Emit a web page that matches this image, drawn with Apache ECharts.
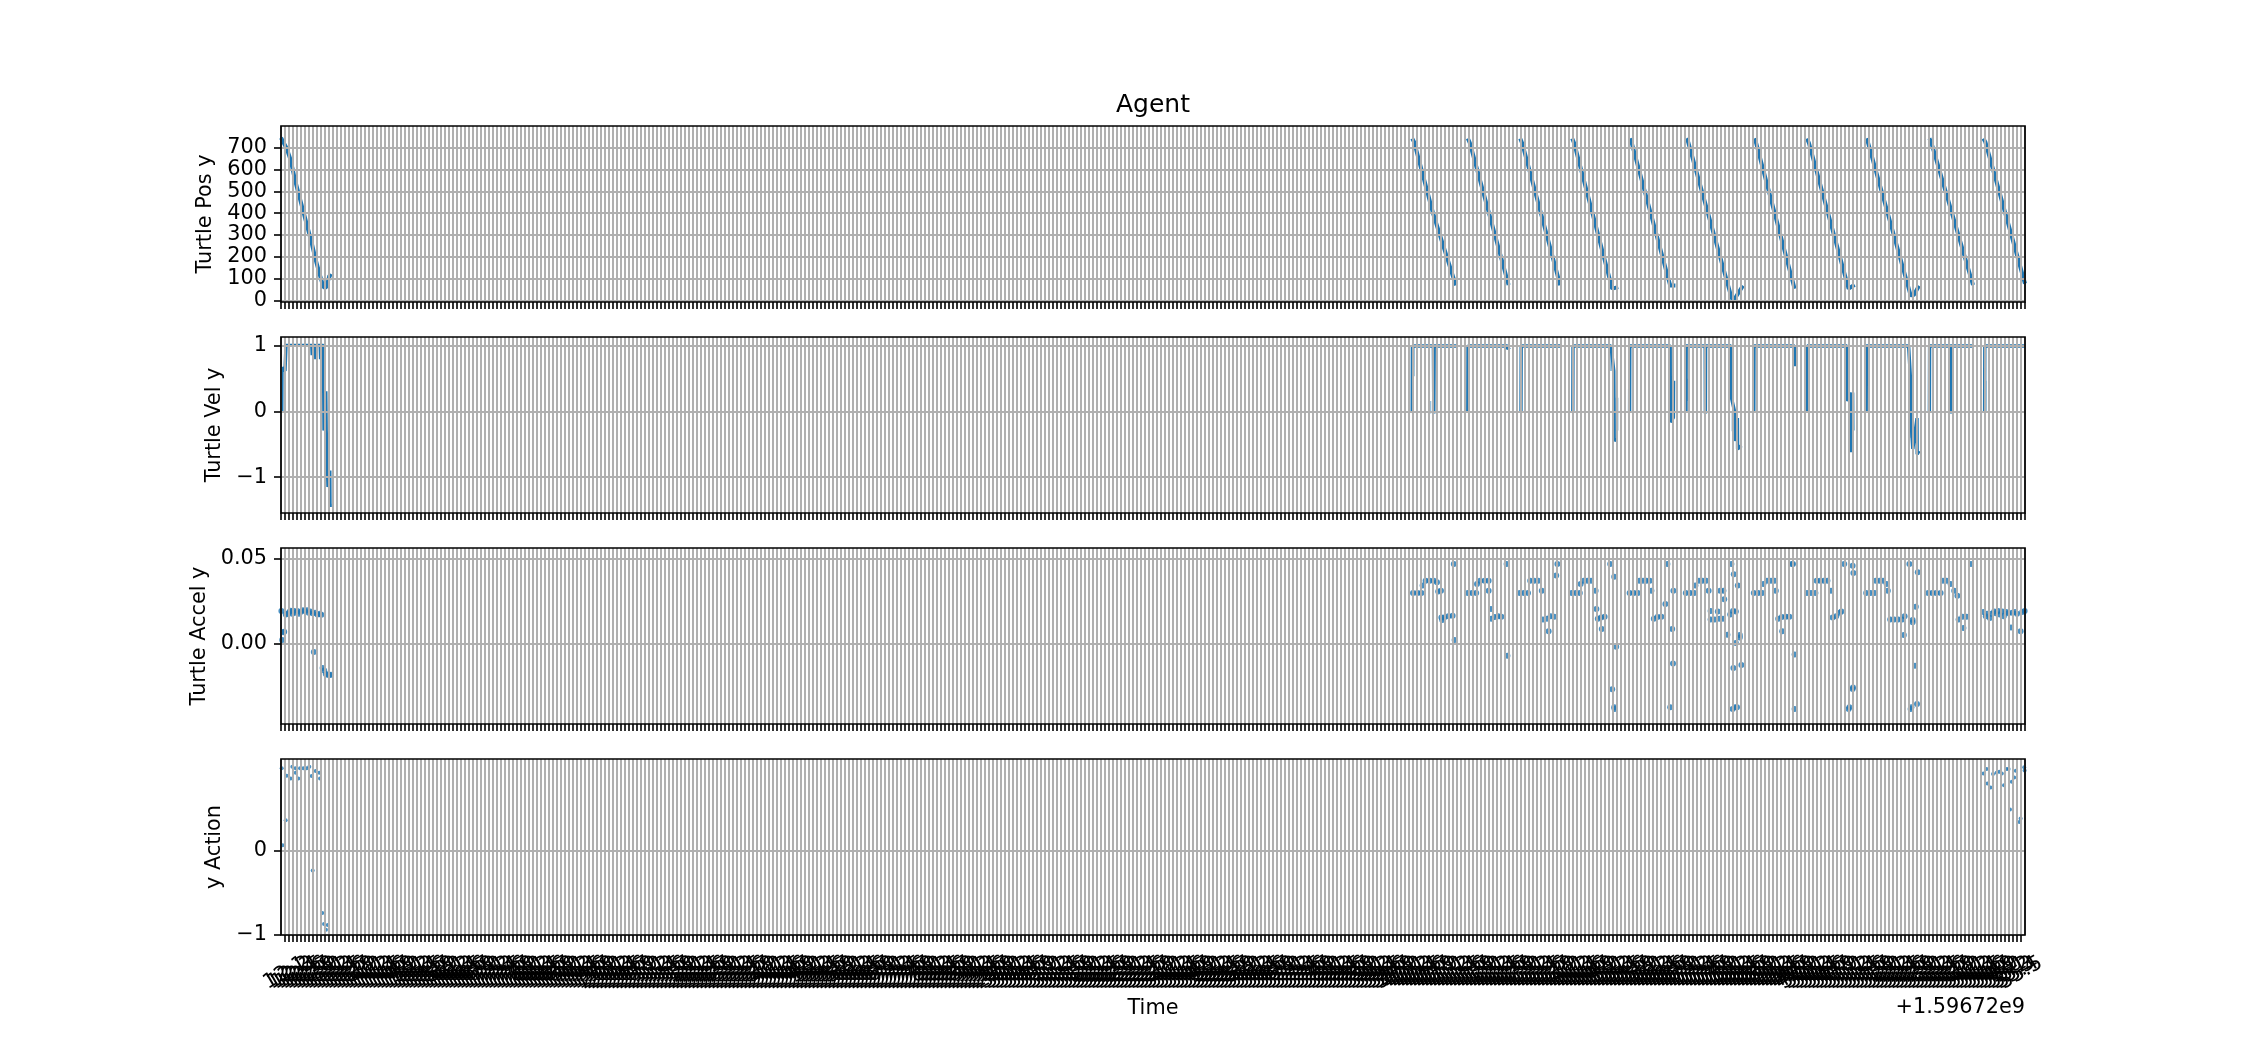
<!DOCTYPE html>
<html><head><meta charset="utf-8">
<script src="https://cdn.jsdelivr.net/npm/echarts@6/dist/echarts.min.js"></script>
<style>html,body{margin:0;padding:0;background:#fff}#c{width:2250px;height:1050px}</style>
</head><body><div id="c"></div>
<script>
// ---------- DATA (x = tick index along the time axis) ----------
const X_MIN = 0, X_MAX = 436;
// tick labels (offset seconds, shown with the +1.59672e9 offset)
const xTickLabels = Array.from({length: X_MAX - X_MIN + 1}, (_, i) => (12 + i * 0.1).toFixed(1));

const posTicks = [0, 100, 200, 300, 400, 500, 600, 700];
const velTicks = [-1, 0, 1];
const accTicks = [0, 0.05];
const actTicks = [-1, 0];

// Turtle Pos y (null = gap between episodes)
const posT = [0,0.4,1.4,2.4,3.5,4.6,5.6,6.6,7.7,8.7,9.75,10.6,11.4,12.1,12.7,null,
  282.8,283.3,288.0,293.7,null,
  296.7,297.2,306.9,null,
  309.8,310.3,319.8,null,
  322.8,323.3,332.8,333.3,334.3,null,
  337.2,337.7,347.3,348.6,null,
  351.3,351.8,362.7,363.5,365.5,null,
  368.3,368.8,378.4,null,
  381.5,382.0,391.9,393.4,null,
  396.3,396.8,407.4,408.2,409.5,null,
  412.1,412.6,423.0,null,
  425.6,426.1,436];
const posY = [745,743,697,644,552,475,406,337,261,184,115,61,61,115,110,null,
  742,725,400,69,null,
  742,722,71,null,
  742,720,70,null,
  742,720,54,50,61,null,
  742,720,69,69,null,
  742,725,8,10,68,null,
  742,720,54,null,
  742,720,54,72,null,
  742,720,24,25,67,null,
  742,722,71,null,
  742,725,77];

// Turtle Vel y
const velT = [0.2,0.25,1.0,1.25,7.7,7.8,7.9,8.6,8.7,8.8,9.8,9.9,10.0,10.6,10.75,11.1,11.2,11.3,11.7,11.75,12.2,12.25,12.7,null,
  282.8,282.85,288.1,288.2,288.3,293.9,null,
  296.7,296.75,306.6,306.7,307.1,null,
  310.0,310.05,320.0,null,
  322.95,323.0,332.5,333.2,333.3,333.8,null,
  337.15,337.2,347.3,347.35,348.1,348.15,null,
  351.25,351.3,356.05,356.1,356.15,362.5,362.65,363.4,363.45,364.1,364.15,365.1,null,
  368.2,368.25,378.35,378.4,null,
  381.5,381.55,391.5,391.6,392.4,392.45,392.9,392.95,null,
  396.3,396.35,406.9,406.95,407.4,407.45,407.9,407.95,409.0,409.05,409.5,null,
  412.1,412.15,417.3,417.4,417.5,423.2,null,
  425.9,425.95,436];
const velY = [0,0.67,0.62,1.01,1.01,0.86,1.01,1.01,0.8,1.01,1.01,0.8,1.01,1.01,-0.29,-0.29,0.31,-0.29,-0.29,-1.15,-0.9,-1.43,-1.43,null,
  0,1.0,1.0,-0.03,1.0,1.0,null,
  0,1.0,1.0,0.95,0.98,null,
  0,1.0,1.0,null,
  0,1.0,1.0,0.62,-0.45,-0.4,null,
  0,1.0,1.0,-0.16,-0.09,0.47,null,
  0,1.0,1.0,-0.03,1.0,1.0,0.2,0.0,-0.45,-0.1,-0.57,-0.52,null,
  0,1.0,1.0,0.69,null,
  0,1.0,1.0,0.16,0.29,-0.62,0.29,-0.29,null,
  0,1.0,1.0,0.95,0.47,-0.09,-0.06,-0.57,-0.1,-0.65,-0.6,null,
  0,1.0,1.0,-0.03,1.0,1.0,null,
  0,1.0,1.0];
// faint (sparser) velocity strokes
const velFaintT = [283.1,283.1,null,287.2,287.2,null,332.4,332.4,null,334.0,334.0,null,351.4,351.4,null,362.4,362.4,null,363.0,363.0,null,381.6,381.6,null,391.4,391.4,null,407.2,407.2,null,417.2,417.2,null,426.0,426.0];
const velFaintY = [1.0,0.54,null,0.16,-0.03,null,1.0,0.62,null,0.21,-0.29,null,0.16,0.5,null,0.95,0.29,null,-0.3,0.0,null,0.16,0.62,null,1.0,0.16,null,0.16,-0.4,null,0.29,1.0,null,0.47,0.0];

// Turtle Accel y
const accT = [0.1,0.3,0.6,0.8,1.2,1.6,2.1,2.4,2.8,3.1,3.5,4.1,4.5,4.9,5.5,5.9,6.5,6.9,7.3,7.9,8.2,8.5,9.1,9.7,10.1,10.4,10.8,11.2,11.6,12.1,12.5,
  283.0,284.1,285.1,285.4,286.15,287.2,288.2,289.0,289.3,290.0,290.1,290.3,290.8,291.85,292.9,293.2,293.4,
  296.7,297.75,298.8,299.0,299.8,300.9,301.9,301.9,302.5,302.6,303.4,304.3,305.1,306.4,306.6,
  309.7,310.7,311.75,312.3,313.3,314.3,315.2,315.5,316.5,317.4,318.3,316.9,319.1,318.8,
  322.7,323.7,324.7,324.9,325.7,326.6,327.5,328.65,328.85,329.2,330.0,330.9,330.2,332.3,333.3,333.8,332.8,333.3,333.4,
  337.15,338.2,339.2,339.6,340.5,341.4,342.2,342.6,343.2,344.1,345.1,346.1,346.6,347.8,348.1,348.0,347.3,
  351.2,352.3,353.3,353.6,354.5,355.4,356.3,356.9,357.4,359.2,357.4,358.4,359.6,360.5,359.8,360.6,360.8,362.3,363.0,363.7,362.6,363.2,364.2,361.6,363.7,364.7,364.7,363.1,365.1,362.9,363.5,364.0,
  368.2,369.3,370.3,370.6,371.5,372.5,373.4,373.7,374.3,375.2,376.2,377.1,375.3,377.7,378.0,378.4,378.4,
  381.5,382.5,383.6,383.9,384.8,385.7,386.6,387.5,387.9,388.8,389.7,390.1,390.8,392.9,393.1,392.9,393.0,391.9,392.1,
  396.3,397.4,398.4,398.7,399.6,400.5,401.4,401.7,402.3,403.3,404.3,405.3,405.9,407.9,407.9,408.7,405.7,407.1,409.2,408.5,407.4,407.6,409.0,
  411.8,412.8,413.8,414.9,415.5,416.4,417.4,418.3,419.1,419.4,420.4,421.4,420.6,422.5,
  425.6,426.2,426.6,427.2,427.6,428.3,428.7,429.3,429.7,430.3,430.7,431.3,431.8,432.5,432.8,433.5,434.0,434.9,435.3,435.9];
const accY = [0.019,0.002,0.0065,0.0068,0.017,0.0175,0.0185,0.0192,0.0175,0.0192,0.018,0.019,0.0175,0.0185,0.0195,0.019,0.0195,0.018,0.0188,0.0178,-0.005,0.018,0.017,0.0175,0.0168,-0.0145,-0.016,-0.018,-0.0185,-0.0186,-0.0185,
  0.0296,0.0296,0.0296,0.034,0.0369,0.0369,0.0369,0.036,0.0305,0.031,0.0152,0.0138,0.0152,0.016,0.0162,0.0467,0.002,
  0.0296,0.0296,0.0296,0.035,0.0369,0.0369,0.0369,0.031,0.0202,0.0145,0.0155,0.016,0.0157,0.0467,-0.0072,
  0.0296,0.0296,0.0296,0.0369,0.0369,0.0369,0.031,0.014,0.0145,0.016,0.0157,0.0071,0.0467,0.04,
  0.0296,0.0296,0.0296,0.035,0.0369,0.0369,0.0369,0.031,0.0202,0.0145,0.0152,0.0157,0.0085,0.0467,0.0392,-0.0019,-0.027,-0.0376,-0.0386,
  0.0296,0.0296,0.0296,0.0369,0.0369,0.0369,0.0369,0.031,0.0145,0.0155,0.0157,0.0232,0.0467,0.0085,0.031,-0.0118,-0.0376,
  0.0296,0.0296,0.0296,0.034,0.0369,0.0369,0.0369,0.031,0.019,0.0188,0.014,0.014,0.0145,0.0145,0.031,0.031,0.026,0.017,0.019,0.0188,0.0467,0.0407,0.034,0.0051,0.0002,0.005,0.0035,-0.0145,-0.0127,-0.0386,-0.0376,-0.0376,
  0.0296,0.0296,0.0296,0.035,0.0369,0.0369,0.0369,0.031,0.0145,0.0155,0.0157,0.0157,0.0071,0.0467,0.0467,-0.0066,-0.0386,
  0.0296,0.0296,0.0296,0.0369,0.0369,0.0369,0.0369,0.031,0.0152,0.016,0.018,0.0188,0.0467,0.0457,0.0414,-0.0268,-0.026,-0.0386,-0.0376,
  0.0296,0.0296,0.0296,0.0369,0.0369,0.0369,0.035,0.031,0.014,0.014,0.014,0.014,0.016,0.0125,0.0138,0.0216,0.0049,0.0467,0.0418,-0.0131,-0.0386,-0.0376,-0.0356,
  0.0296,0.0296,0.0296,0.0296,0.0369,0.0369,0.035,0.031,0.028,0.014,0.0157,0.0157,0.009,0.0467,
  0.0185,0.016,0.0175,0.015,0.0175,0.0188,0.0178,0.019,0.017,0.0188,0.016,0.0185,0.0178,0.0094,0.018,0.0185,0.0175,0.0071,0.0185,0.019];

// y Action
const actT = [0.17,0.42,1.17,1.42,2.42,2.83,3.67,3.67,4.33,4.75,5.58,6.42,7.08,7.67,7.92,8.67,9.58,9.75,10.33,10.75,11.25,11.67,
  425.6,426.4,426.6,427.4,428.0,428.9,429.6,430.2,430.75,431.4,431.9,432.25,432.7,433.3,433.7,434.6,434.9,435.8,435.9];
const actY = [0.976,0.063,0.361,0.888,0.857,0.996,0.976,0.924,0.857,0.976,0.976,0.976,0.996,0.884,-0.234,0.944,0.924,0.857,-0.739,-0.869,-0.937,-0.881,
  0.916,0.968,0.797,0.75,0.908,0.924,0.936,0.916,0.777,0.968,0.968,0.488,0.817,0.869,0.948,0.341,0.381,0.988,0.95];

// ---------- CHART ----------
const pair = (T, Y) => T.map((t, i) => (t === null || Y[i] === null) ? ['-', '-'] : [t, Y[i]]);
const FONT = 'DejaVu Sans';
const FS = 20.8;
const BLUE = '#1f77b4';
const L = 281, W = 1744, H = 176;
const TOPS = [126, 337, 548, 759];
const minus = v => String(v).replace('-', '\u2212');

const tickStyle = {color: '#000', width: 1.6};
const gridLine = {show: true, lineStyle: {color: '#b0b0b0', width: 2}};

const xAxes = TOPS.map((t, i) => ({
  type: 'value', gridIndex: i, min: X_MIN, max: X_MAX, interval: 1, z: 5, position: 'bottom',
  axisLine: {show: false, onZero: false},
  axisTick: {show: true, length: 7, lineStyle: tickStyle},
  splitLine: gridLine,
  axisLabel: i === 3 ? {
    show: true, rotate: 30, align: 'center', verticalAlign: 'middle', margin: 38,
    fontFamily: FONT, fontSize: FS, color: '#000',
    formatter: v => xTickLabels[Math.round(v - X_MIN)] || ''
  } : {show: false}
}));

function yAx(i, min, max, ticks, name, gap, fmt) {
  return {
    type: 'value', gridIndex: i, min: min, max: max, z: 5, position: 'left',
    axisLine: {show: false, onZero: false},
    axisTick: {show: true, length: 7, lineStyle: tickStyle, customValues: ticks},
    axisLabel: {show: true, customValues: ticks, fontFamily: FONT, fontSize: FS, color: '#000', margin: 14, formatter: fmt},
    splitLine: gridLine,
    name: name, nameLocation: 'middle', nameGap: gap, nameRotate: 90,
    nameTextStyle: {fontFamily: FONT, fontSize: FS, color: '#000'}
  };
}

const yAxes = [
  yAx(0, -7, 799, posTicks, 'Turtle Pos y', 65, v => minus(v)),
  yAx(1, -1.547, 1.137, velTicks, 'Turtle Vel y', 55, v => minus(v)),
  yAx(2, -0.0474, 0.0561, accTicks, 'Turtle Accel y', 70, v => minus(Number(v).toFixed(2))),
  yAx(3, -1, 1.087, actTicks, 'y Action', 52, v => minus(v))
];

const frames = TOPS.map(t => ({
  type: 'rect', z: 100, silent: true,
  shape: {x: L, y: t, width: W, height: H},
  style: {fill: 'none', stroke: '#000', lineWidth: 1.7}
}));

const option = {
  animation: false,
  backgroundColor: '#fff',
  grid: TOPS.map(t => ({left: L, top: t, width: W, height: H})),
  xAxis: xAxes,
  yAxis: yAxes,
  graphic: frames.concat([
    {type: 'text', z: 100, x: 1153, y: 105, style: {text: 'Agent', font: '25px "DejaVu Sans"', fill: '#000', textAlign: 'center', textVerticalAlign: 'middle'}},
    {type: 'text', z: 100, x: 1153, y: 1009, style: {text: 'Time', font: '20.8px "DejaVu Sans"', fill: '#000', textAlign: 'center', textVerticalAlign: 'middle'}},
    {type: 'text', z: 100, x: 2025, y: 1008, style: {text: '+1.59672e9', font: '20.8px "DejaVu Sans"', fill: '#000', textAlign: 'right', textVerticalAlign: 'middle'}}
  ]),
  series: [
    {type: 'line', xAxisIndex: 0, yAxisIndex: 0, data: pair(posT, posY), showSymbol: false, connectNulls: false, z: 2,
      lineStyle: {color: BLUE, width: 4}, itemStyle: {color: BLUE}},
    {type: 'line', xAxisIndex: 1, yAxisIndex: 1, data: pair(velFaintT, velFaintY), showSymbol: false, connectNulls: false, z: 2,
      lineStyle: {color: 'rgba(31,119,180,0.45)', width: 3}},
    {type: 'line', xAxisIndex: 1, yAxisIndex: 1, data: pair(velT, velY), showSymbol: false, connectNulls: false, z: 2,
      lineStyle: {color: BLUE, width: 3.4}, itemStyle: {color: BLUE}},
    {type: 'scatter', xAxisIndex: 2, yAxisIndex: 2, data: pair(accT, accY), symbolSize: 6, z: 2,
      itemStyle: {color: BLUE}},
    {type: 'scatter', xAxisIndex: 3, yAxisIndex: 3, data: pair(actT, actY), symbolSize: 4, z: 2,
      itemStyle: {color: BLUE}}
  ]
};
echarts.init(document.getElementById('c'), null, {renderer: 'canvas'}).setOption(option);
</script>
</body></html>
